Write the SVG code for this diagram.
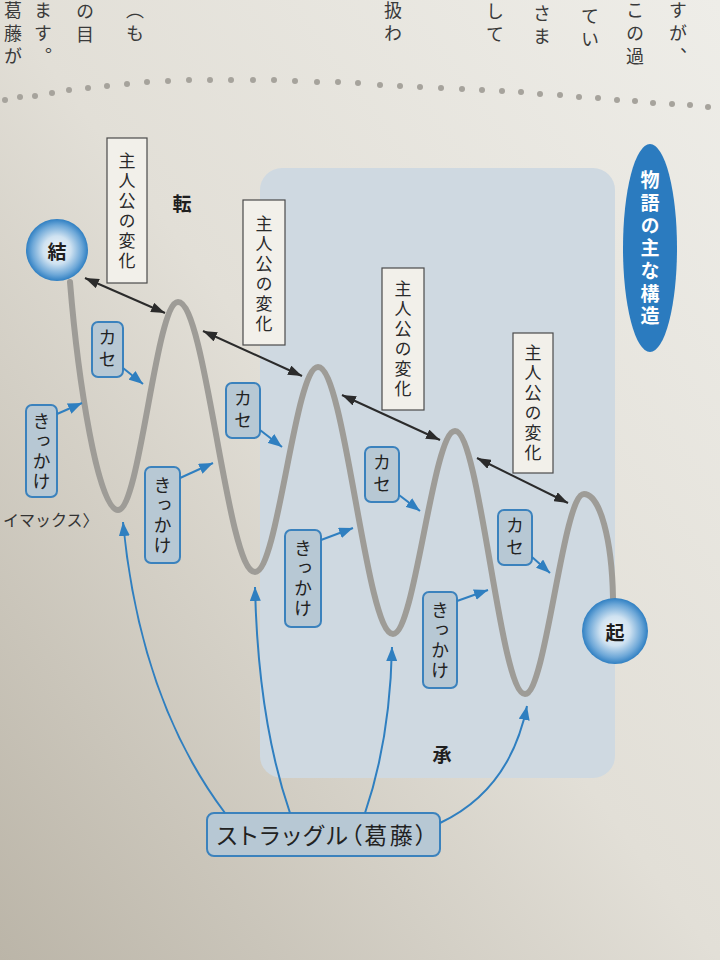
<svg xmlns="http://www.w3.org/2000/svg" width="720" height="960" viewBox="0 0 720 960">
<defs>
<linearGradient id="page" x1="1" y1="0" x2="0" y2="1">
<stop offset="0" stop-color="#eeede8"/>
<stop offset="0.5" stop-color="#e2dfd7"/>
<stop offset="1" stop-color="#bbb5a8"/>
</linearGradient>
<radialGradient id="ball" cx="0.5" cy="0.5" r="0.5">
<stop offset="0" stop-color="#f6f9fc"/>
<stop offset="0.45" stop-color="#cfe2f1"/>
<stop offset="0.8" stop-color="#6ea8d8"/>
<stop offset="1" stop-color="#2f7fc2"/>
</radialGradient>
<marker id="bk" viewBox="0 0 14 10" refX="14" refY="5" markerWidth="14" markerHeight="10" markerUnits="userSpaceOnUse" orient="auto-start-reverse">
<path d="M0,0 L14,5 L0,10 Z" fill="#2b2b2b"/>
</marker>
<marker id="bl" viewBox="0 0 14 11" refX="14" refY="5.5" markerWidth="14" markerHeight="11" markerUnits="userSpaceOnUse" orient="auto">
<path d="M0,0 L14,5.5 L0,11 Z" fill="#2f7fc0"/>
</marker>
</defs>
<style>
.jp{font-family:"Noto Sans CJK JP","Noto Sans",sans-serif}
.col{font-family:"Noto Sans CJK JP",sans-serif;font-size:18px;fill:#3a3a3a;writing-mode:vertical-rl;letter-spacing:5px}
.vbox{fill:#f2f0ea;stroke:#4a4a4a;stroke-width:1.2}
.vt{font-family:"Noto Sans CJK JP",sans-serif;font-size:17px;fill:#2a2a2a;writing-mode:vertical-rl;text-anchor:middle;letter-spacing:3px}
.bbox{fill:#b7c8d4;stroke:#3b82bd;stroke-width:2}
.bt{font-family:"Noto Sans CJK JP",sans-serif;font-size:18px;fill:#222;writing-mode:vertical-rl;text-anchor:middle}
.wave{fill:none;stroke:#9e9c97;stroke-width:6;stroke-linecap:round}
.dbl{fill:none;stroke:#2b2b2b;stroke-width:2;marker-start:url(#bk);marker-end:url(#bk)}
.ba{fill:none;stroke:#2f7fc0;stroke-width:2;marker-end:url(#bl)}
.big{font-family:"Noto Sans CJK JP",sans-serif;font-size:19px;font-weight:bold;fill:#1e1e1e;text-anchor:middle;dominant-baseline:central}
.dot{fill:#a6a39c}
</style>
<rect x="0" y="0" width="720" height="960" fill="url(#page)"/>
<rect id="panel" x="260" y="168" width="355" height="610" rx="22" fill="#cfd9e1"/>
<g id="dots">
<circle class="dot" cx="5" cy="100" r="3"/><circle class="dot" cx="20" cy="97" r="3"/><circle class="dot" cx="35" cy="96" r="3"/><circle class="dot" cx="52" cy="93" r="3"/><circle class="dot" cx="69" cy="90" r="3"/><circle class="dot" cx="88" cy="88" r="3"/><circle class="dot" cx="107" cy="86" r="3"/><circle class="dot" cx="127" cy="84" r="3"/><circle class="dot" cx="147" cy="82" r="3"/><circle class="dot" cx="168" cy="81" r="3"/><circle class="dot" cx="189" cy="80" r="3"/><circle class="dot" cx="210" cy="80" r="3"/><circle class="dot" cx="231" cy="80" r="3"/><circle class="dot" cx="253" cy="80" r="3"/><circle class="dot" cx="274" cy="80" r="3"/><circle class="dot" cx="295" cy="81" r="3"/><circle class="dot" cx="317" cy="82" r="3"/><circle class="dot" cx="338" cy="82" r="3"/><circle class="dot" cx="358" cy="83" r="3"/><circle class="dot" cx="380" cy="85" r="3"/><circle class="dot" cx="400" cy="86" r="3"/><circle class="dot" cx="420" cy="87" r="3"/><circle class="dot" cx="441" cy="88" r="3"/><circle class="dot" cx="462" cy="89" r="3"/><circle class="dot" cx="482" cy="90" r="3"/><circle class="dot" cx="502" cy="91" r="3"/><circle class="dot" cx="521" cy="92" r="3"/><circle class="dot" cx="540" cy="94" r="3"/><circle class="dot" cx="560" cy="95" r="3"/><circle class="dot" cx="579" cy="97" r="3"/><circle class="dot" cx="598" cy="98" r="3"/><circle class="dot" cx="617" cy="100" r="3"/><circle class="dot" cx="635" cy="101" r="3"/><circle class="dot" cx="653" cy="103" r="3"/><circle class="dot" cx="672" cy="104" r="3"/><circle class="dot" cx="690" cy="105" r="3"/><circle class="dot" cx="708" cy="107" r="3"/>
</g>
<g id="page-text">
<text class="col" x="13" y="1">葛藤が</text>
<text class="col" x="43" y="1">ます。</text>
<text class="col" x="85" y="2">の目</text>
<text class="col" x="135" y="1">（も</text>
<text class="col" x="393" y="1">扱わ</text>
<text class="col" x="495" y="2">して</text>
<text class="col" x="542" y="4">さま</text>
<text class="col" x="590" y="7">てい</text>
<text class="col" x="635" y="1">この過</text>
<text class="col" x="678" y="1">すが、</text>
<text class="jp" x="3" y="526" font-size="16" fill="#333">イマックス〉</text>
</g>
<g id="title">
<ellipse cx="650" cy="248" rx="27" ry="104" fill="#2b7bbf"/>
<text x="650" y="250" font-family="Noto Sans CJK JP, sans-serif" font-size="19" font-weight="bold" fill="#ffffff" style="writing-mode:vertical-rl;text-anchor:middle;letter-spacing:3.7px">物語の主な構造</text>
</g>
<g id="wave">
<path class="wave" d="M70,282 C78,380 98,510 118,510 C140,510 156,302 178,302 C206,302 227,572 255,572 C278,572 295,367 318,367 C345,367 366,634 393,634 C415,634 433,431 455,431 C480,431 500,694 525,694 C546,694 563,494 584,494 C600,494 612,540 613,598"/>
</g>
<g id="ketsu">
<circle cx="57" cy="250" r="31" fill="url(#ball)"/>
<text class="big" x="57" y="250">結</text>
</g>
<g id="ki">
<circle cx="615" cy="631" r="33" fill="url(#ball)"/>
<text class="big" x="615" y="631">起</text>
</g>
<g id="ten"><text class="big" x="182" y="202">転</text></g>
<g id="shou"><text class="big" x="442" y="753">承</text></g>
<g id="change1"><rect class="vbox" x="107" y="138" width="40" height="145"/><text class="vt" x="127" y="212">主人公の変化</text></g>
<g id="change2"><rect class="vbox" x="243" y="200" width="42" height="145"/><text class="vt" x="264" y="275">主人公の変化</text></g>
<g id="change3"><rect class="vbox" x="382" y="268" width="42" height="142"/><text class="vt" x="403" y="340">主人公の変化</text></g>
<g id="change4"><rect class="vbox" x="513" y="333" width="40" height="140"/><text class="vt" x="533" y="404">主人公の変化</text></g>
<g id="kase1"><rect class="bbox" x="92" y="322" width="31" height="55" rx="6"/><text class="bt" x="107.5" y="350" style="letter-spacing:4px">カセ</text></g>
<g id="kase2"><rect class="bbox" x="226" y="383" width="34" height="55" rx="6"/><text class="bt" x="243" y="411" style="letter-spacing:4px">カセ</text></g>
<g id="kase3"><rect class="bbox" x="365" y="447" width="34" height="55" rx="6"/><text class="bt" x="382" y="475" style="letter-spacing:4px">カセ</text></g>
<g id="kase4"><rect class="bbox" x="498" y="510" width="34" height="55" rx="6"/><text class="bt" x="515" y="538" style="letter-spacing:4px">カセ</text></g>
<g id="kikkake1"><rect class="bbox" x="26" y="405" width="31" height="92" rx="6"/><text class="bt" x="41.5" y="452" style="letter-spacing:2px">きっかけ</text></g>
<g id="kikkake2"><rect class="bbox" x="145" y="467" width="35" height="96" rx="6"/><text class="bt" x="162.5" y="516" style="letter-spacing:2px">きっかけ</text></g>
<g id="kikkake3"><rect class="bbox" x="285" y="530" width="36" height="97" rx="6"/><text class="bt" x="303" y="579" style="letter-spacing:2px">きっかけ</text></g>
<g id="kikkake4"><rect class="bbox" x="423" y="592" width="34" height="96" rx="6"/><text class="bt" x="440" y="641" style="letter-spacing:2px">きっかけ</text></g>
<g id="struggle"><rect class="bbox" x="207" y="813" width="233" height="43" rx="7"/><text class="jp" x="323" y="844" font-size="23" fill="#222" text-anchor="middle" style="font-feature-settings:'palt';letter-spacing:2.5px">ストラッグル（葛藤）</text></g>
<g id="connectors">
<path class="dbl" d="M85,278 L165,313"/>
<path class="dbl" d="M203,331 L302,376"/>
<path class="dbl" d="M342,395 L440,440"/>
<path class="dbl" d="M477,458 L568,503"/>
<path class="ba" d="M123,368 L143,384"/>
<path class="ba" d="M260,430 L282,447"/>
<path class="ba" d="M399,495 L420,511"/>
<path class="ba" d="M532,557 L550,573"/>
<path class="ba" d="M57,414 L82,403"/>
<path class="ba" d="M180,478 L213,463"/>
<path class="ba" d="M321,540 L353,528"/>
<path class="ba" d="M457,601 L488,590"/>
<path class="ba" d="M225,813 Q140,700 123,522"/>
<path class="ba" d="M290,813 Q258,720 255,587"/>
<path class="ba" d="M365,813 Q390,740 392,647"/>
<path class="ba" d="M440,823 Q510,790 527,706"/>
</g>
</svg>
